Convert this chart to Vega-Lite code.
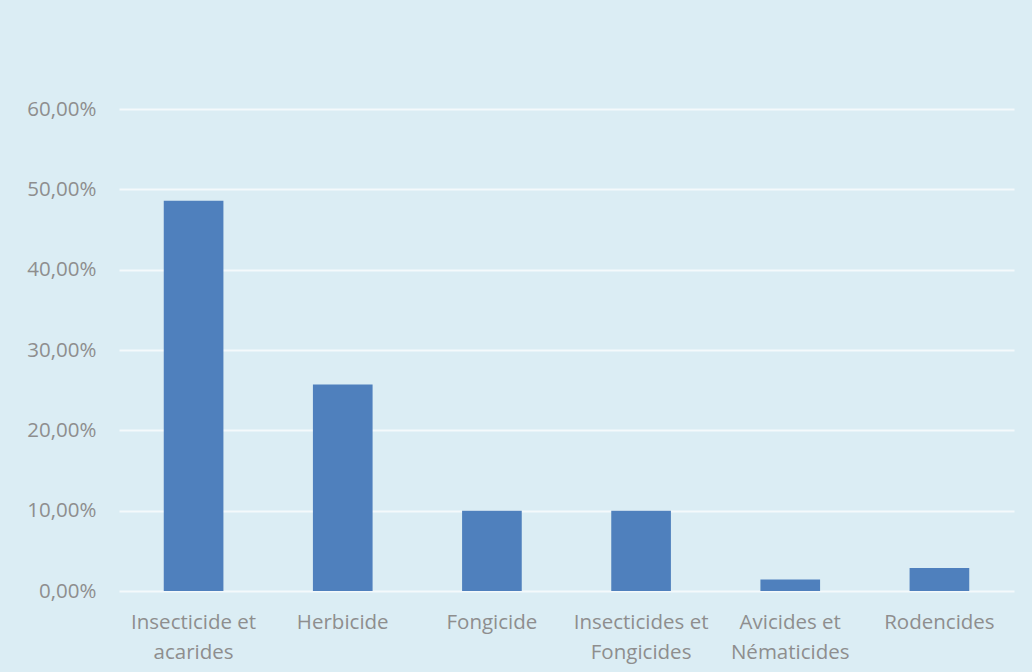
{
  "$schema": "https://vega.github.io/schema/vega-lite/v6.json",
  "autosize": {"type": "none"},
  "width": 895,
  "height": 482,
  "padding": {"left": 119, "top": 109, "right": 18, "bottom": 81},
  "background": "#DBEDF4",
  "config": {
    "locale": {
      "number": {"decimal": ",", "thousands": " ", "grouping": [3], "currency": ["", " €"]}
    },
    "view": {"stroke": null},
    "axis": {
      "labelFont": "Open Sans",
      "labelFontSize": 20.5,
      "labelColor": "#8E8E8E",
      "ticks": false,
      "domain": false,
      "title": null
    }
  },
  "data": {
    "values": [
      {"type": "Insecticide et acarides", "share": 0.4857},
      {"type": "Herbicide", "share": 0.2571},
      {"type": "Fongicide", "share": 0.10},
      {"type": "Insecticides et Fongicides", "share": 0.10},
      {"type": "Avicides et Nématicides", "share": 0.0143},
      {"type": "Rodencides", "share": 0.0286}
    ]
  },
  "mark": {"type": "bar", "color": "#4F80BD"},
  "encoding": {
    "x": {
      "field": "type",
      "type": "nominal",
      "sort": null,
      "scale": {"paddingInner": 0.6, "paddingOuter": 0.3},
      "axis": {
        "labelAngle": 0,
        "labelPadding": 21,
        "labelBaseline": "top",
        "labelLineHeight": 30,
        "grid": false,
        "labelExpr": "split(replace(datum.label, ' et ', ' et|'), '|')"
      }
    },
    "y": {
      "field": "share",
      "type": "quantitative",
      "scale": {"domain": [0, 0.6], "nice": false},
      "axis": {
        "values": [0, 0.1, 0.2, 0.3, 0.4, 0.5, 0.6],
        "format": ".2%",
        "labelPadding": 23,
        "grid": true,
        "gridColor": "#F4F9FB",
        "gridWidth": 2
      }
    }
  }
}
